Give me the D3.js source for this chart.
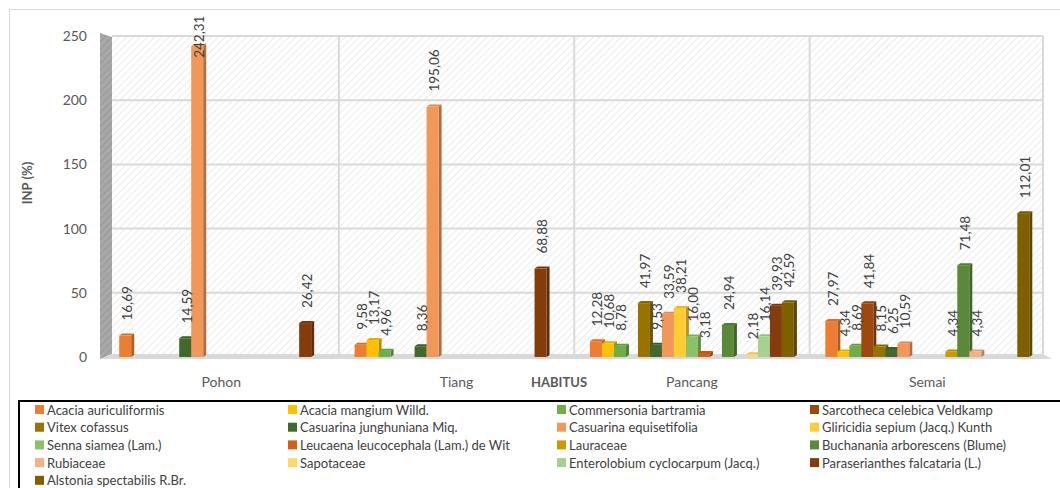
<!DOCTYPE html>
<html>
<head>
<meta charset="utf-8">
<script src="https://cdn.jsdelivr.net/npm/d3@7"></script>
<style>
  html, body { margin: 0; padding: 0; background: #fff; }
  svg { display: block; font-family: Lato, "Open Sans", sans-serif; }
</style>
</head>
<body>
<svg id="chart" width="1060" height="488"></svg>
<script>
// Habitus groups (x categories)
const categories = ["Pohon", "Tiang", "Pancang", "Semai"];

// Species (series), in legend order
const species = [
  "Acacia auriculiformis",
  "Acacia mangium Willd.",
  "Commersonia bartramia",
  "Sarcotheca celebica Veldkamp",
  "Vitex cofassus",
  "Casuarina junghuniana Miq.",
  "Casuarina equisetifolia",
  "Gliricidia sepium (Jacq.) Kunth",
  "Senna siamea (Lam.)",
  "Leucaena leucocephala (Lam.) de Wit",
  "Lauraceae",
  "Buchanania arborescens (Blume)",
  "Rubiaceae",
  "Sapotaceae",
  "Enterolobium cyclocarpum (Jacq.)",
  "Paraserianthes falcataria (L.)",
  "Alstonia spectabilis R.Br."
];

const colors = [
  "#ED7D31", "#FFC000", "#70AD47", "#9E480E",
  "#997300", "#43682B", "#F1975A", "#FFCD33",
  "#8CC168", "#D26012", "#CC9A00", "#5A8A39",
  "#F5B183", "#FFD966", "#A9D18E", "#843C0C",
  "#7F6000"
];

// INP (%) per species, one value per habitus: Pohon, Tiang, Pancang, Semai (null = absent)
const acaciaAuriculiformis   = [16.69, 9.58, 12.28, 27.97];
const acaciaMangium          = [null, 13.17, 10.68, 4.34];
const commersoniaBartramia   = [null, 4.96, 8.78, 8.69];
const sarcothecaCelebica     = [null, null, null, 41.84];
const vitexCofassus          = [null, null, 41.97, 8.15];
const casuarinaJunghuniana   = [14.59, 8.36, 9.53, 6.25];
const casuarinaEquisetifolia = [242.31, 195.06, 33.59, 10.59];
const gliricidiaSepium       = [null, null, 38.21, null];
const sennaSiamea            = [null, null, 16.00, null];
const leucaenaLeucocephala   = [null, null, 3.18, null];
const lauraceae              = [null, null, null, 4.34];
const buchananiaArborescens  = [null, null, 24.94, 71.48];
const rubiaceae              = [null, null, null, 4.34];
const sapotaceae             = [null, null, 2.18, null];
const enterolobiumCyclocarpum= [null, null, 16.14, null];
const paraserianthesFalcataria = [26.42, 68.88, 39.93, null];
const alstoniaSpectabilis    = [null, null, 42.59, 112.01];

const seriesValues = [
  acaciaAuriculiformis, acaciaMangium, commersoniaBartramia, sarcothecaCelebica,
  vitexCofassus, casuarinaJunghuniana, casuarinaEquisetifolia, gliricidiaSepium,
  sennaSiamea, leucaenaLeucocephala, lauraceae, buchananiaArborescens,
  rubiaceae, sapotaceae, enterolobiumCyclocarpum, paraserianthesFalcataria,
  alstoniaSpectabilis
];

const yTicks = [0, 50, 100, 150, 200, 250];

const svg = d3.select("#chart");

// ---- patterns for the plot backdrop and side wall ----
const defs = svg.append("defs");
const hatch = defs.append("pattern")
  .attr("id", "hatch").attr("width", 5).attr("height", 5)
  .attr("patternUnits", "userSpaceOnUse")
  .attr("patternTransform", "rotate(45)");
hatch.append("rect").attr("width", 5).attr("height", 5).attr("fill", "#ffffff");
hatch.append("line").attr("x1", 0).attr("y1", 0).attr("x2", 0).attr("y2", 5)
  .attr("stroke", "#e6e6e6").attr("stroke-width", 1.6);

const wallHatch = defs.append("pattern")
  .attr("id", "wallHatch").attr("width", 5).attr("height", 5)
  .attr("patternUnits", "userSpaceOnUse")
  .attr("patternTransform", "rotate(45)");
wallHatch.append("rect").attr("width", 5).attr("height", 5).attr("fill", "#a8a8a8");
wallHatch.append("line").attr("x1", 0).attr("y1", 0).attr("x2", 0).attr("y2", 5)
  .attr("stroke", "#939393").attr("stroke-width", 1.6);

// ---- outer chart frame ----
svg.append("rect").attr("x", 9.5).attr("y", 9.5).attr("width", 1060).attr("height", 500)
  .attr("fill", "#fff").attr("stroke", "#d9d9d9").attr("stroke-width", 1);

// ---- scales ----
const wallL = 100, wallR = 112, backR = 1043;
const y = d3.scaleLinear().domain([0, 250]).range([357, 36]);
const x0 = d3.scaleBand().domain(categories).range([103.5, 1045]).paddingInner(0).paddingOuter(0);
const x1 = d3.scaleBand().domain(d3.range(species.length))
  .range([0, x0.bandwidth()]).paddingInner(0).paddingOuter(1.31);

// ---- back wall with hatch ----
svg.append("rect").attr("x", wallR).attr("y", y(250)).attr("width", backR - wallR)
  .attr("height", y(0) - y(250)).attr("fill", "url(#hatch)");

// horizontal gridlines
svg.append("g").selectAll("line").data(yTicks.filter(d => d > 0)).join("line")
  .attr("x1", wallR).attr("x2", backR)
  .attr("y1", d => y(d)).attr("y2", d => y(d))
  .attr("stroke", "#d9d9d9").attr("stroke-width", 2);

// vertical gridlines at category boundaries plus right edge
const vBounds = categories.slice(1).map(c => x0(c)).concat([backR]);
svg.append("g").selectAll("line").data(vBounds).join("line")
  .attr("x1", d => d).attr("x2", d => d)
  .attr("y1", y(250)).attr("y2", y(0) - 3)
  .attr("stroke", "#d9d9d9").attr("stroke-width", 2);

// left side wall
svg.append("polygon")
  .attr("points", [[wallL, y(250) - 3], [wallR, y(250) + 1], [wallR, y(0) - 3], [wallL, y(0) + 2]].join(" "))
  .attr("fill", "url(#wallHatch)");

// floor
svg.append("polygon")
  .attr("points", [[wallL, y(0) + 2], [wallR, y(0) - 3], [backR, y(0) - 3], [1052, y(0) + 2]].join(" "))
  .attr("fill", "#d9d9d9");

// ---- y axis ----
const yAxis = d3.axisLeft(y).tickValues(yTicks).tickSize(0).tickPadding(0);
const gy = svg.append("g").attr("transform", "translate(87,0)").call(yAxis);
gy.select(".domain").remove();
gy.selectAll("text").attr("fill", "#595959").style("font-size", "14px")
  .style("font-family", "Lato, sans-serif");

// ---- bars (3D-style: front, top and right side faces) ----
const fmt = v => d3.format(".2f")(v).replace(".", ",");
const depth = 3, rise = 2;
const barData = [];
seriesValues.forEach((vals, s) => {
  vals.forEach((v, c) => {
    if (v !== null) barData.push({ s, cat: categories[c], v });
  });
});

const barsG = svg.append("g");
categories.forEach(cat => {
  const g = barsG.append("g").attr("transform", `translate(${x0(cat)},0)`);
  const items = barData.filter(d => d.cat === cat);
  const w = x1.bandwidth();
  const bar = g.selectAll("g.bar").data(items).join("g").attr("class", "bar");
  // side face
  bar.append("polygon")
    .attr("points", d => {
      const xl = x1(d.s) + w, yt = y(d.v), yb = y(0);
      return [[xl, yt], [xl + depth, yt - rise], [xl + depth, yb - rise], [xl, yb]].join(" ");
    })
    .attr("fill", d => d3.color(colors[d.s]).darker(0.9));
  // top face
  bar.append("polygon")
    .attr("points", d => {
      const xl = x1(d.s), yt = y(d.v);
      return [[xl, yt], [xl + depth, yt - rise], [xl + w + depth, yt - rise], [xl + w, yt]].join(" ");
    })
    .attr("fill", d => d3.color(colors[d.s]).darker(0.3));
  // front face
  bar.append("rect")
    .attr("x", d => x1(d.s)).attr("width", w)
    .attr("y", d => y(d.v)).attr("height", d => y(0) - y(d.v))
    .attr("fill", d => colors[d.s]);
});

// ---- rotated value labels ----
const labelsG = svg.append("g");
categories.forEach(cat => {
  const items = barData.filter(d => d.cat === cat);
  labelsG.selectAll(null).data(items).join("text")
    .attr("transform", d => {
      const cx = x0(cat) + x1(d.s) + x1.bandwidth() / 2 + 1.5;
      const t = fmt(d.v);
      const len = t.length * 6.8;
      let bottom = y(d.v) - 15;
      if (bottom - len < 17) bottom = 17 + len;
      return `translate(${cx},${bottom}) rotate(-90)`;
    })
    .attr("dominant-baseline", "central")
    .attr("fill", "#404040")
    .style("font-size", "13.5px")
    .text(d => fmt(d.v));
});

// ---- category labels ----
svg.append("g").selectAll("text").data(categories).join("text")
  .attr("x", d => x0(d) + x0.bandwidth() / 2).attr("y", 381)
  .attr("text-anchor", "middle").attr("dominant-baseline", "central")
  .attr("fill", "#595959").style("font-size", "14px")
  .text(d => d);

// ---- axis titles ----
svg.append("text").attr("x", 559).attr("y", 382)
  .attr("text-anchor", "middle").attr("dominant-baseline", "central")
  .attr("fill", "#595959").style("font-size", "13px").style("font-weight", "bold")
  .text("HABITUS");

svg.append("text").attr("transform", "translate(27,183) rotate(-90)")
  .attr("text-anchor", "middle").attr("dominant-baseline", "central")
  .attr("fill", "#595959").style("font-size", "13px").style("font-weight", "bold")
  .text("INP (%)");

// ---- legend ----
svg.append("rect").attr("x", 19).attr("y", 401).attr("width", 1060).attr("height", 120)
  .attr("fill", "#fff").attr("stroke", "#000").attr("stroke-width", 2);

const colX = [35, 288, 557, 810];
const rowY0 = 409.5, rowH = 17.7;
const leg = svg.append("g").selectAll("g").data(species).join("g")
  .attr("transform", (d, i) => `translate(${colX[i % 4]},${rowY0 + Math.floor(i / 4) * rowH})`);
leg.append("rect").attr("x", 0).attr("y", -4.5).attr("width", 9).attr("height", 9)
  .attr("fill", (d, i) => colors[i]);
leg.append("text").attr("x", 12).attr("y", 0).attr("dominant-baseline", "central")
  .attr("fill", "#404040").style("font-size", "13px")
  .text(d => d);
</script>
</body>
</html>
